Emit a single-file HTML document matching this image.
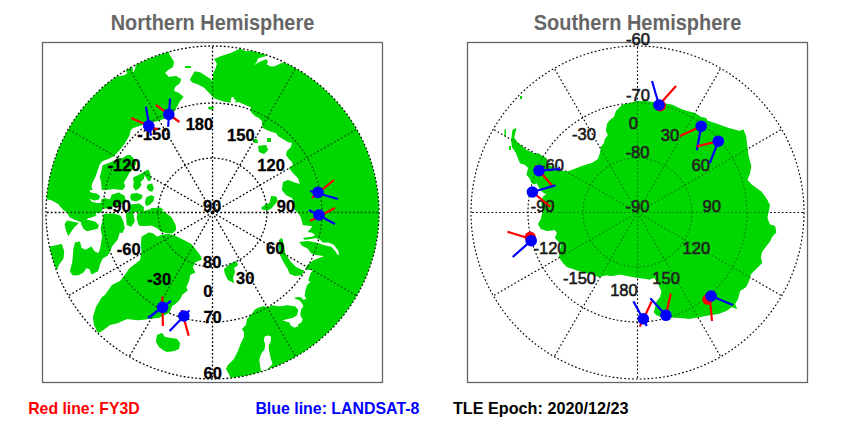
<!DOCTYPE html>
<html><head><meta charset="utf-8"><style>
html,body{margin:0;padding:0;background:#fff;}
svg{display:block;}
text{font-family:"Liberation Sans",sans-serif;}
</style></head><body>
<svg width="850" height="425" viewBox="0 0 850 425">
<defs>
<clipPath id="cl"><circle cx="212.5" cy="212.5" r="166.5"/></clipPath>
<clipPath id="cr"><circle cx="637.5" cy="212.5" r="166.5"/></clipPath>
</defs>
<rect x="0" y="0" width="850" height="425" fill="#fff"/>
<text x="212.5" y="30.3" text-anchor="middle" font-size="21.5" font-weight="bold" fill="#666" textLength="203.5" lengthAdjust="spacingAndGlyphs">Northern Hemisphere</text>
<text x="637.5" y="30.3" text-anchor="middle" font-size="21.5" font-weight="bold" fill="#666" textLength="207.5" lengthAdjust="spacingAndGlyphs">Southern Hemisphere</text>
<rect x="42.5" y="42.5" width="340" height="340" fill="none" stroke="#666" stroke-width="1.3"/>
<rect x="467.5" y="42.5" width="340" height="340" fill="none" stroke="#666" stroke-width="1.3"/>
<g clip-path="url(#cl)" fill="#00d600">
<path d="M170.0,30.0 L170.0,50.0 L169.0,54.0 L171.0,57.0 L174.0,62.0 L173.0,67.0 L168.0,70.0 L165.0,73.0 L169.0,77.0 L176.0,76.0 L181.0,79.0 L180.0,83.0 L175.0,87.0 L174.0,91.0 L179.0,93.0 L183.5,97.0 L180.0,101.0 L177.6,105.6 L175.0,110.0 L171.8,115.6 L164.7,118.5 L157.6,121.0 L149.4,123.0 L141.0,125.6 L133.0,128.0 L130.8,130.0 L129.4,135.6 L125.2,142.7 L121.0,148.4 L116.7,153.3 L113.9,156.1 L108.2,158.9 L102.6,161.1 L99.8,163.9 L98.4,168.1 L96.9,172.4 L95.5,176.6 L92.7,182.2 L91.3,186.5 L92.7,190.0 L89.4,190.0 L90.6,192.4 L96.5,193.5 L100.0,195.9 L98.8,199.4 L94.1,200.6 L91.8,199.4 L89.4,198.8 L91.8,201.8 L96.5,202.9 L101.2,202.9 L103.0,206.0 L102.0,210.0 L101.2,212.4 L95.3,212.9 L96.5,215.3 L92.9,217.1 L87.1,218.8 L82.4,222.4 L80.0,221.8 L74.1,219.4 L69.4,217.1 L67.1,212.4 L63.5,210.0 L60.0,206.5 L59.0,204.5 L52.0,200.5 L46.5,199.0 L30.0,199.0 L30.0,30.0 L112.0,30.0 L114.1,77.1 L118.8,76.2 L124.5,75.2 L127.3,73.3 L125.9,70.5 L128.2,68.2 L132.0,66.8 L132.9,69.1 L132.5,72.4 L133.9,71.5 L135.3,68.2 L135.7,64.9 L136.0,30.0 Z"/><path d="M189.8,79.8 L194.5,71.4 L200.0,72.3 L205.8,76.0 L210.5,78.9 L212.4,81.7 L213.3,73.2 L215.2,69.5 L217.0,63.8 L214.2,59.1 L220.8,56.3 L232.1,52.5 L239.6,48.8 L240.0,47.5 L242.5,49.9 L246.6,51.2 L250.7,50.8 L256.5,52.0 L261.4,53.2 L265.5,54.5 L267.2,55.7 L261.4,57.3 L258.1,58.2 L256.5,62.3 L253.6,65.6 L258.9,62.3 L264.7,59.8 L267.2,59.4 L267.6,62.7 L266.3,64.3 L270.5,66.4 L274.6,66.4 L279.5,63.9 L284.4,62.3 L289.4,64.8 L296.0,68.0 L300.0,69.7 L300.0,30.0 L430.0,30.0 L430.0,400.0 L231.0,400.0 L231.0,379.0 L229.0,374.0 L226.0,369.0 L228.0,365.0 L234.0,359.0 L238.0,351.0 L241.0,343.0 L244.0,337.0 L244.0,332.0 L242.0,329.0 L246.0,325.0 L247.0,319.0 L251.0,315.0 L255.0,309.5 L258.3,307.8 L263.2,306.2 L268.2,307.0 L273.1,305.4 L280.0,306.5 L287.1,305.3 L295.3,306.5 L298.2,310.0 L297.0,315.3 L292.9,317.8 L282.2,320.2 L289.6,322.7 L290.4,325.2 L294.5,327.7 L298.7,326.0 L297.8,324.4 L301.1,322.7 L302.8,319.4 L300.6,315.9 L300.5,312.4 L301.5,308.8 L303.5,306.5 L302.4,304.1 L300.0,300.6 L294.1,298.2 L297.6,297.1 L301.2,297.6 L303.5,300.0 L306.5,298.8 L304.7,295.9 L305.3,291.2 L307.1,285.3 L310.6,281.8 L308.2,280.6 L310.6,273.5 L312.9,270.0 L313.0,270.0 L308.0,270.0 L305.3,268.5 L307.6,265.0 L313.5,260.3 L319.4,257.9 L324.1,256.2 L320.6,255.6 L315.9,255.0 L311.2,253.2 L307.6,248.5 L301.8,245.6 L299.4,242.1 L307.6,240.9 L315.9,242.6 L325.3,245.6 L331.2,246.8 L335.9,252.1 L337.1,254.4 L339.0,255.0 L338.5,251.0 L334.0,245.0 L328.8,242.6 L322.9,242.6 L319.4,239.1 L315.3,237.9 L310.6,239.1 L304.7,239.7 L302.9,237.9 L306.5,237.4 L312.4,236.8 L315.3,235.0 L311.8,232.6 L307.6,232.1 L309.4,230.3 L312.4,226.2 L302.9,225.0 L301.0,218.0 L299.0,214.0 L295.0,210.0 L294.0,206.0 L294.0,202.0 L292.0,198.0 L286.0,195.0 L282.0,190.0 L283.0,182.0 L288.0,180.0 L296.0,183.0 L300.0,184.0 L298.0,178.0 L293.0,173.0 L289.0,168.0 L293.0,165.0 L292.0,162.0 L289.0,159.0 L286.0,155.0 L287.0,151.0 L291.0,147.0 L292.0,143.0 L288.0,142.0 L283.0,139.0 L278.0,136.0 L276.0,133.0 L272.0,132.0 L267.0,130.0 L263.0,128.0 L262.0,125.0 L262.0,121.0 L259.0,118.0 L255.0,116.0 L252.1,113.2 L250.2,110.4 L251.1,107.6 L247.4,105.7 L242.7,103.8 L238.9,101.9 L235.1,102.4 L236.1,100.5 L234.2,99.1 L233.2,96.8 L231.4,97.2 L230.4,102.4 L223.8,101.5 L219.1,100.1 L214.4,98.2 L211.6,95.4 L208.8,92.5 L203.9,87.4 L198.2,84.5 L192.6,82.6 L189.8,79.8 Z"/><path d="M141.6,236.7 L148.7,232.5 L152.9,233.2 L157.1,236.7 L162.8,234.6 L168.4,233.9 L174.1,235.3 L182.6,239.5 L191.0,243.8 L196.6,250.5 L200.5,255.7 L201.8,259.6 L195.3,262.2 L192.8,267.3 L195.3,272.5 L190.2,275.1 L188.9,281.5 L186.3,286.7 L187.6,290.6 L182.4,294.5 L179.8,299.7 L175.9,303.5 L172.1,306.1 L169.5,312.6 L164.3,315.2 L159.1,317.8 L148.8,319.0 L138.4,320.3 L127.0,319.0 L118.0,323.0 L110.0,325.0 L102.0,331.0 L98.0,333.0 L94.0,325.0 L93.0,317.0 L96.0,307.0 L102.0,297.0 L105.0,295.0 L112.0,285.0 L120.0,281.0 L124.0,276.0 L129.4,268.6 L140.2,260.0 L141.6,250.8 L140.9,245.2 Z"/><path d="M157.0,335.0 L162.0,333.0 L165.0,337.0 L171.0,338.0 L177.0,339.0 L180.0,343.0 L179.0,349.0 L174.0,351.0 L167.0,352.0 L163.0,350.0 L159.0,347.0 L156.0,342.0 Z"/><path d="M224.0,269.0 L230.0,264.0 L236.0,261.0 L238.0,265.0 L234.0,268.0 L235.0,272.0 L233.0,278.0 L234.0,283.0 L228.0,280.0 L225.0,274.0 Z"/><path d="M279.0,240.0 L282.0,238.0 L284.0,245.0 L285.0,253.0 L290.0,261.0 L296.0,267.0 L302.0,270.0 L300.0,273.0 L293.0,275.0 L289.0,271.0 L284.0,263.0 L280.0,255.0 L279.0,247.0 Z"/><path d="M288.0,270.0 L304.0,270.0 L302.0,275.0 L295.0,276.0 L290.0,274.0 Z"/><path d="M102.6,165.3 L108.2,163.2 L113.9,161.1 L118.1,158.2 L122.4,158.2 L126.6,155.4 L132.2,156.8 L136.5,162.5 L134.0,168.0 L129.4,172.4 L126.6,178.0 L123.8,182.2 L125.2,186.5 L122.4,190.0 L114.0,189.0 L107.4,189.7 L101.9,190.0 L101.2,182.2 L99.8,176.6 L101.2,172.4 Z"/><path d="M133.2,177.6 L137.9,175.3 L142.6,172.9 L145.0,174.1 L143.8,178.8 L140.3,182.4 L141.5,184.7 L139.1,188.2 L135.6,190.6 L133.2,187.1 L133.8,182.4 Z"/><path d="M143.8,171.8 L148.5,169.4 L150.3,174.1 L150.9,180.0 L148.5,181.2 L145.6,176.5 Z"/><path d="M147.4,184.7 L152.1,183.5 L153.8,188.2 L152.1,191.8 L148.5,190.6 L146.8,187.6 Z"/><path d="M130.9,194.1 L136.8,192.9 L142.6,195.3 L141.5,198.8 L136.8,201.2 L131.5,200.6 L130.3,197.6 Z"/><path d="M146.2,197.6 L150.9,195.3 L154.4,196.5 L153.2,201.2 L149.7,204.7 L146.2,205.9 L145.0,202.4 Z"/><path d="M129.7,204.7 L139.1,203.5 L143.8,207.1 L143.8,212.0 L129.7,212.0 Z"/><path d="M150.9,208.2 L160.3,207.6 L163.8,210.0 L150.9,211.0 Z"/><path d="M125.0,171.8 L127.4,170.6 L128.5,175.3 L125.0,176.5 Z"/><path d="M127.0,155.0 L131.0,155.0 L132.0,162.0 L127.0,163.0 Z"/><path d="M101.2,199.4 L104.7,198.2 L110.0,199.4 L111.8,194.7 L118.8,192.4 L124.7,195.9 L125.9,201.8 L121.2,204.1 L110.0,207.6 L104.7,208.8 L101.2,207.6 Z"/><path d="M103.5,214.1 L113.4,213.4 L120.4,215.5 L123.2,221.2 L124.7,228.0 L122.5,233.0 L119.7,232.5 L117.6,239.5 L112.0,246.6 L109.1,253.7 L103.5,257.9 L97.8,256.5 L100.6,246.6 L102.1,236.7 L100.6,228.2 L102.8,219.8 Z"/><path d="M81.2,220.6 L85.9,219.4 L90.6,220.6 L95.3,221.8 L98.8,225.3 L97.6,228.8 L91.8,230.0 L87.1,231.2 L83.5,228.8 L81.2,224.1 Z"/><path d="M64.7,224.1 L67.1,220.6 L72.9,221.8 L78.8,222.9 L74.1,227.6 L70.6,232.4 L68.2,235.9 L65.9,230.0 Z"/><path d="M147.3,209.9 L154.3,208.5 L161.4,209.9 L164.2,212.0 L171.3,217.0 L175.5,224.7 L176.2,229.7 L172.7,233.2 L167.0,233.2 L161.4,231.8 L157.1,228.2 L151.5,225.4 L144.4,226.1 L138.8,225.4 L136.7,218.4 L137.4,213.4 Z"/><path d="M125.9,212.6 L133.0,211.8 L134.7,221.5 L131.2,226.8 L126.8,225.0 Z"/><path d="M70.0,271.2 L72.5,261.3 L73.3,249.8 L75.0,242.4 L79.9,241.5 L81.5,248.1 L85.7,249.8 L91.4,246.5 L94.7,251.4 L98.0,253.1 L101.3,250.6 L106.3,249.8 L107.9,255.5 L103.0,258.0 L100.5,262.9 L98.0,271.2 L91.4,274.5 L89.8,269.5 L86.5,267.9 L83.2,272.8 L78.2,275.3 L72.5,275.3 Z"/><path d="M50.2,246.5 L61.8,244.0 L64.2,251.4 L63.4,258.8 L58.5,265.4 L56.8,270.4 L51.0,258.0 L45.0,250.0 Z"/><path d="M253.0,139.0 L257.0,139.0 L258.0,143.0 L254.0,143.0 Z"/><path d="M258.0,146.0 L266.0,145.0 L268.0,150.0 L264.0,154.0 L259.0,152.0 Z"/><path d="M267.0,138.0 L271.0,138.0 L271.0,142.0 L267.0,142.0 Z"/><path d="M271.0,196.0 L277.0,197.0 L276.0,200.0 L271.0,200.0 Z"/><path d="M261.0,208.0 L265.0,204.7 L269.5,203.0 L271.0,197.0 L275.0,196.5 L277.8,200.6 L274.5,204.7 L271.0,208.8 L267.0,210.5 L263.0,209.7 Z"/><path d="M208.0,107.0 L214.0,106.5 L213.0,109.5 L209.0,109.5 Z"/><path d="M185.0,66.0 L191.0,66.0 L191.0,68.0 L185.0,68.0 Z"/>
</g>
<g clip-path="url(#cl)" fill="#fff">
<path d="M264.6,336.7 L267.8,335.4 L271.1,336.7 L270.4,341.8 L268.5,345.7 L269.1,350.9 L270.4,357.4 L272.4,363.9 L267.0,369.5 L261.0,371.0 L259.4,360.0 L261.4,353.5 L264.6,349.6 L265.3,344.4 L264.0,340.5 Z"/>
</g>
<g clip-path="url(#cr)" fill="#00d600">
<path d="M512.9,129.4 L516.4,128.2 L515.2,132.9 L514.0,137.6 L517.6,142.4 L525.8,149.4 L535.2,154.1 L538.0,153.3 L546.4,158.2 L548.0,164.8 L561.2,170.6 L567.8,171.4 L574.4,169.0 L582.0,166.0 L592.0,163.0 L598.0,159.0 L600.0,153.0 L601.0,147.0 L604.0,143.0 L605.0,139.0 L608.0,135.0 L606.0,131.0 L607.0,124.0 L610.0,120.0 L614.0,117.0 L616.0,111.0 L622.0,105.0 L630.0,103.0 L637.0,101.0 L645.0,101.0 L653.0,102.0 L663.0,103.0 L673.0,105.0 L681.0,109.0 L687.0,111.0 L695.0,113.0 L701.0,117.0 L706.0,118.0 L707.2,120.5 L718.8,124.4 L729.2,128.3 L734.3,129.6 L739.5,130.9 L743.4,129.6 L746.0,136.0 L747.3,146.4 L748.6,156.8 L751.2,165.8 L749.9,173.6 L747.3,180.0 L752.5,185.2 L761.5,191.7 L765.4,196.9 L767.3,200.0 L769.9,205.2 L768.6,211.6 L767.3,218.1 L769.9,224.6 L775.0,225.9 L776.3,232.4 L772.5,236.2 L769.9,241.4 L766.0,246.6 L762.1,251.8 L760.8,256.9 L762.1,263.4 L761.0,255.0 L762.0,263.0 L756.0,269.0 L751.0,274.0 L749.0,281.0 L746.0,287.0 L740.0,291.0 L738.0,299.0 L735.0,304.0 L737.0,309.0 L732.0,307.0 L726.0,311.0 L718.0,314.0 L710.0,315.0 L700.0,317.0 L690.0,318.8 L680.7,318.1 L673.6,317.4 L661.0,316.7 L656.7,315.3 L653.9,312.5 L655.3,306.8 L656.7,301.2 L660.2,297.0 L661.6,291.3 L659.5,287.0 L657.6,282.7 L654.3,277.7 L649.4,279.4 L642.8,278.6 L632.9,276.9 L619.8,274.4 L611.5,276.1 L606.6,275.3 L599.0,277.0 L593.0,275.0 L587.0,273.0 L579.0,271.0 L573.0,269.0 L567.0,267.0 L563.0,263.0 L559.0,257.0 L560.0,251.0 L561.0,245.0 L558.0,241.0 L555.0,238.0 L557.0,233.0 L555.0,230.0 L547.0,231.0 L541.0,229.0 L538.0,224.0 L541.0,219.0 L542.3,212.6 L541.4,202.7 L543.1,196.2 L546.4,194.5 L541.4,191.2 L536.5,183.0 L534.8,184.6 L531.5,183.0 L529.9,178.8 L526.6,174.7 L528.2,168.1 L525.0,164.8 L520.0,163.2 L516.0,153.0 L512.0,147.0 L511.0,139.0 L511.7,137.6 L512.0,133.0 Z"/><path d="M520.0,96.0 L522.0,96.0 L522.0,99.0 L520.0,99.0 Z"/><path d="M504.6,129.4 L505.8,129.4 L505.8,136.5 L504.6,136.5 Z"/><path d="M509.0,146.0 L511.0,146.0 L511.0,150.0 L509.0,150.0 Z"/>
</g>
<g fill="none" stroke="#000" stroke-width="1.3" stroke-dasharray="1.8 2.1">
<circle cx="212.5" cy="212.5" r="54.4" />
<circle cx="212.5" cy="212.5" r="109.5" />
<circle cx="212.5" cy="212.5" r="166.5" />
<line x1="212.5" y1="212.5" x2="212.50" y2="379.00" />
<line x1="212.5" y1="212.5" x2="295.75" y2="356.69" />
<line x1="212.5" y1="212.5" x2="356.69" y2="295.75" />
<line x1="212.5" y1="212.5" x2="379.00" y2="212.50" />
<line x1="212.5" y1="212.5" x2="356.69" y2="129.25" />
<line x1="212.5" y1="212.5" x2="295.75" y2="68.31" />
<line x1="212.5" y1="212.5" x2="212.50" y2="46.00" />
<line x1="212.5" y1="212.5" x2="129.25" y2="68.31" />
<line x1="212.5" y1="212.5" x2="68.31" y2="129.25" />
<line x1="212.5" y1="212.5" x2="46.00" y2="212.50" />
<line x1="212.5" y1="212.5" x2="68.31" y2="295.75" />
<line x1="212.5" y1="212.5" x2="129.25" y2="356.69" />
</g>
<g fill="none" stroke="#000" stroke-width="1.15" stroke-dasharray="1.7 2.2">
<circle cx="637.5" cy="212.5" r="54.4" />
<circle cx="637.5" cy="212.5" r="109.5" />
<circle cx="637.5" cy="212.5" r="166.5" />
<line x1="637.5" y1="212.5" x2="637.50" y2="46.00" />
<line x1="637.5" y1="212.5" x2="720.75" y2="68.31" />
<line x1="637.5" y1="212.5" x2="781.69" y2="129.25" />
<line x1="637.5" y1="212.5" x2="804.00" y2="212.50" />
<line x1="637.5" y1="212.5" x2="781.69" y2="295.75" />
<line x1="637.5" y1="212.5" x2="720.75" y2="356.69" />
<line x1="637.5" y1="212.5" x2="637.50" y2="379.00" />
<line x1="637.5" y1="212.5" x2="554.25" y2="356.69" />
<line x1="637.5" y1="212.5" x2="493.31" y2="295.75" />
<line x1="637.5" y1="212.5" x2="471.00" y2="212.50" />
<line x1="637.5" y1="212.5" x2="493.31" y2="129.25" />
<line x1="637.5" y1="212.5" x2="554.25" y2="68.31" />
</g>
<g clip-path="url(#cl)" fill="#00d600" fill-opacity="0.4">
<path d="M170.0,30.0 L170.0,50.0 L169.0,54.0 L171.0,57.0 L174.0,62.0 L173.0,67.0 L168.0,70.0 L165.0,73.0 L169.0,77.0 L176.0,76.0 L181.0,79.0 L180.0,83.0 L175.0,87.0 L174.0,91.0 L179.0,93.0 L183.5,97.0 L180.0,101.0 L177.6,105.6 L175.0,110.0 L171.8,115.6 L164.7,118.5 L157.6,121.0 L149.4,123.0 L141.0,125.6 L133.0,128.0 L130.8,130.0 L129.4,135.6 L125.2,142.7 L121.0,148.4 L116.7,153.3 L113.9,156.1 L108.2,158.9 L102.6,161.1 L99.8,163.9 L98.4,168.1 L96.9,172.4 L95.5,176.6 L92.7,182.2 L91.3,186.5 L92.7,190.0 L89.4,190.0 L90.6,192.4 L96.5,193.5 L100.0,195.9 L98.8,199.4 L94.1,200.6 L91.8,199.4 L89.4,198.8 L91.8,201.8 L96.5,202.9 L101.2,202.9 L103.0,206.0 L102.0,210.0 L101.2,212.4 L95.3,212.9 L96.5,215.3 L92.9,217.1 L87.1,218.8 L82.4,222.4 L80.0,221.8 L74.1,219.4 L69.4,217.1 L67.1,212.4 L63.5,210.0 L60.0,206.5 L59.0,204.5 L52.0,200.5 L46.5,199.0 L30.0,199.0 L30.0,30.0 L112.0,30.0 L114.1,77.1 L118.8,76.2 L124.5,75.2 L127.3,73.3 L125.9,70.5 L128.2,68.2 L132.0,66.8 L132.9,69.1 L132.5,72.4 L133.9,71.5 L135.3,68.2 L135.7,64.9 L136.0,30.0 Z"/><path d="M189.8,79.8 L194.5,71.4 L200.0,72.3 L205.8,76.0 L210.5,78.9 L212.4,81.7 L213.3,73.2 L215.2,69.5 L217.0,63.8 L214.2,59.1 L220.8,56.3 L232.1,52.5 L239.6,48.8 L240.0,47.5 L242.5,49.9 L246.6,51.2 L250.7,50.8 L256.5,52.0 L261.4,53.2 L265.5,54.5 L267.2,55.7 L261.4,57.3 L258.1,58.2 L256.5,62.3 L253.6,65.6 L258.9,62.3 L264.7,59.8 L267.2,59.4 L267.6,62.7 L266.3,64.3 L270.5,66.4 L274.6,66.4 L279.5,63.9 L284.4,62.3 L289.4,64.8 L296.0,68.0 L300.0,69.7 L300.0,30.0 L430.0,30.0 L430.0,400.0 L231.0,400.0 L231.0,379.0 L229.0,374.0 L226.0,369.0 L228.0,365.0 L234.0,359.0 L238.0,351.0 L241.0,343.0 L244.0,337.0 L244.0,332.0 L242.0,329.0 L246.0,325.0 L247.0,319.0 L251.0,315.0 L255.0,309.5 L258.3,307.8 L263.2,306.2 L268.2,307.0 L273.1,305.4 L280.0,306.5 L287.1,305.3 L295.3,306.5 L298.2,310.0 L297.0,315.3 L292.9,317.8 L282.2,320.2 L289.6,322.7 L290.4,325.2 L294.5,327.7 L298.7,326.0 L297.8,324.4 L301.1,322.7 L302.8,319.4 L300.6,315.9 L300.5,312.4 L301.5,308.8 L303.5,306.5 L302.4,304.1 L300.0,300.6 L294.1,298.2 L297.6,297.1 L301.2,297.6 L303.5,300.0 L306.5,298.8 L304.7,295.9 L305.3,291.2 L307.1,285.3 L310.6,281.8 L308.2,280.6 L310.6,273.5 L312.9,270.0 L313.0,270.0 L308.0,270.0 L305.3,268.5 L307.6,265.0 L313.5,260.3 L319.4,257.9 L324.1,256.2 L320.6,255.6 L315.9,255.0 L311.2,253.2 L307.6,248.5 L301.8,245.6 L299.4,242.1 L307.6,240.9 L315.9,242.6 L325.3,245.6 L331.2,246.8 L335.9,252.1 L337.1,254.4 L339.0,255.0 L338.5,251.0 L334.0,245.0 L328.8,242.6 L322.9,242.6 L319.4,239.1 L315.3,237.9 L310.6,239.1 L304.7,239.7 L302.9,237.9 L306.5,237.4 L312.4,236.8 L315.3,235.0 L311.8,232.6 L307.6,232.1 L309.4,230.3 L312.4,226.2 L302.9,225.0 L301.0,218.0 L299.0,214.0 L295.0,210.0 L294.0,206.0 L294.0,202.0 L292.0,198.0 L286.0,195.0 L282.0,190.0 L283.0,182.0 L288.0,180.0 L296.0,183.0 L300.0,184.0 L298.0,178.0 L293.0,173.0 L289.0,168.0 L293.0,165.0 L292.0,162.0 L289.0,159.0 L286.0,155.0 L287.0,151.0 L291.0,147.0 L292.0,143.0 L288.0,142.0 L283.0,139.0 L278.0,136.0 L276.0,133.0 L272.0,132.0 L267.0,130.0 L263.0,128.0 L262.0,125.0 L262.0,121.0 L259.0,118.0 L255.0,116.0 L252.1,113.2 L250.2,110.4 L251.1,107.6 L247.4,105.7 L242.7,103.8 L238.9,101.9 L235.1,102.4 L236.1,100.5 L234.2,99.1 L233.2,96.8 L231.4,97.2 L230.4,102.4 L223.8,101.5 L219.1,100.1 L214.4,98.2 L211.6,95.4 L208.8,92.5 L203.9,87.4 L198.2,84.5 L192.6,82.6 L189.8,79.8 Z"/><path d="M141.6,236.7 L148.7,232.5 L152.9,233.2 L157.1,236.7 L162.8,234.6 L168.4,233.9 L174.1,235.3 L182.6,239.5 L191.0,243.8 L196.6,250.5 L200.5,255.7 L201.8,259.6 L195.3,262.2 L192.8,267.3 L195.3,272.5 L190.2,275.1 L188.9,281.5 L186.3,286.7 L187.6,290.6 L182.4,294.5 L179.8,299.7 L175.9,303.5 L172.1,306.1 L169.5,312.6 L164.3,315.2 L159.1,317.8 L148.8,319.0 L138.4,320.3 L127.0,319.0 L118.0,323.0 L110.0,325.0 L102.0,331.0 L98.0,333.0 L94.0,325.0 L93.0,317.0 L96.0,307.0 L102.0,297.0 L105.0,295.0 L112.0,285.0 L120.0,281.0 L124.0,276.0 L129.4,268.6 L140.2,260.0 L141.6,250.8 L140.9,245.2 Z"/><path d="M157.0,335.0 L162.0,333.0 L165.0,337.0 L171.0,338.0 L177.0,339.0 L180.0,343.0 L179.0,349.0 L174.0,351.0 L167.0,352.0 L163.0,350.0 L159.0,347.0 L156.0,342.0 Z"/><path d="M224.0,269.0 L230.0,264.0 L236.0,261.0 L238.0,265.0 L234.0,268.0 L235.0,272.0 L233.0,278.0 L234.0,283.0 L228.0,280.0 L225.0,274.0 Z"/><path d="M279.0,240.0 L282.0,238.0 L284.0,245.0 L285.0,253.0 L290.0,261.0 L296.0,267.0 L302.0,270.0 L300.0,273.0 L293.0,275.0 L289.0,271.0 L284.0,263.0 L280.0,255.0 L279.0,247.0 Z"/><path d="M288.0,270.0 L304.0,270.0 L302.0,275.0 L295.0,276.0 L290.0,274.0 Z"/><path d="M102.6,165.3 L108.2,163.2 L113.9,161.1 L118.1,158.2 L122.4,158.2 L126.6,155.4 L132.2,156.8 L136.5,162.5 L134.0,168.0 L129.4,172.4 L126.6,178.0 L123.8,182.2 L125.2,186.5 L122.4,190.0 L114.0,189.0 L107.4,189.7 L101.9,190.0 L101.2,182.2 L99.8,176.6 L101.2,172.4 Z"/><path d="M133.2,177.6 L137.9,175.3 L142.6,172.9 L145.0,174.1 L143.8,178.8 L140.3,182.4 L141.5,184.7 L139.1,188.2 L135.6,190.6 L133.2,187.1 L133.8,182.4 Z"/><path d="M143.8,171.8 L148.5,169.4 L150.3,174.1 L150.9,180.0 L148.5,181.2 L145.6,176.5 Z"/><path d="M147.4,184.7 L152.1,183.5 L153.8,188.2 L152.1,191.8 L148.5,190.6 L146.8,187.6 Z"/><path d="M130.9,194.1 L136.8,192.9 L142.6,195.3 L141.5,198.8 L136.8,201.2 L131.5,200.6 L130.3,197.6 Z"/><path d="M146.2,197.6 L150.9,195.3 L154.4,196.5 L153.2,201.2 L149.7,204.7 L146.2,205.9 L145.0,202.4 Z"/><path d="M129.7,204.7 L139.1,203.5 L143.8,207.1 L143.8,212.0 L129.7,212.0 Z"/><path d="M150.9,208.2 L160.3,207.6 L163.8,210.0 L150.9,211.0 Z"/><path d="M125.0,171.8 L127.4,170.6 L128.5,175.3 L125.0,176.5 Z"/><path d="M127.0,155.0 L131.0,155.0 L132.0,162.0 L127.0,163.0 Z"/><path d="M101.2,199.4 L104.7,198.2 L110.0,199.4 L111.8,194.7 L118.8,192.4 L124.7,195.9 L125.9,201.8 L121.2,204.1 L110.0,207.6 L104.7,208.8 L101.2,207.6 Z"/><path d="M103.5,214.1 L113.4,213.4 L120.4,215.5 L123.2,221.2 L124.7,228.0 L122.5,233.0 L119.7,232.5 L117.6,239.5 L112.0,246.6 L109.1,253.7 L103.5,257.9 L97.8,256.5 L100.6,246.6 L102.1,236.7 L100.6,228.2 L102.8,219.8 Z"/><path d="M81.2,220.6 L85.9,219.4 L90.6,220.6 L95.3,221.8 L98.8,225.3 L97.6,228.8 L91.8,230.0 L87.1,231.2 L83.5,228.8 L81.2,224.1 Z"/><path d="M64.7,224.1 L67.1,220.6 L72.9,221.8 L78.8,222.9 L74.1,227.6 L70.6,232.4 L68.2,235.9 L65.9,230.0 Z"/><path d="M147.3,209.9 L154.3,208.5 L161.4,209.9 L164.2,212.0 L171.3,217.0 L175.5,224.7 L176.2,229.7 L172.7,233.2 L167.0,233.2 L161.4,231.8 L157.1,228.2 L151.5,225.4 L144.4,226.1 L138.8,225.4 L136.7,218.4 L137.4,213.4 Z"/><path d="M125.9,212.6 L133.0,211.8 L134.7,221.5 L131.2,226.8 L126.8,225.0 Z"/><path d="M70.0,271.2 L72.5,261.3 L73.3,249.8 L75.0,242.4 L79.9,241.5 L81.5,248.1 L85.7,249.8 L91.4,246.5 L94.7,251.4 L98.0,253.1 L101.3,250.6 L106.3,249.8 L107.9,255.5 L103.0,258.0 L100.5,262.9 L98.0,271.2 L91.4,274.5 L89.8,269.5 L86.5,267.9 L83.2,272.8 L78.2,275.3 L72.5,275.3 Z"/><path d="M50.2,246.5 L61.8,244.0 L64.2,251.4 L63.4,258.8 L58.5,265.4 L56.8,270.4 L51.0,258.0 L45.0,250.0 Z"/><path d="M253.0,139.0 L257.0,139.0 L258.0,143.0 L254.0,143.0 Z"/><path d="M258.0,146.0 L266.0,145.0 L268.0,150.0 L264.0,154.0 L259.0,152.0 Z"/><path d="M267.0,138.0 L271.0,138.0 L271.0,142.0 L267.0,142.0 Z"/><path d="M271.0,196.0 L277.0,197.0 L276.0,200.0 L271.0,200.0 Z"/><path d="M261.0,208.0 L265.0,204.7 L269.5,203.0 L271.0,197.0 L275.0,196.5 L277.8,200.6 L274.5,204.7 L271.0,208.8 L267.0,210.5 L263.0,209.7 Z"/><path d="M208.0,107.0 L214.0,106.5 L213.0,109.5 L209.0,109.5 Z"/><path d="M185.0,66.0 L191.0,66.0 L191.0,68.0 L185.0,68.0 Z"/>
</g>
<g clip-path="url(#cl)" fill="#fff">
<path d="M264.6,336.7 L267.8,335.4 L271.1,336.7 L270.4,341.8 L268.5,345.7 L269.1,350.9 L270.4,357.4 L272.4,363.9 L267.0,369.5 L261.0,371.0 L259.4,360.0 L261.4,353.5 L264.6,349.6 L265.3,344.4 L264.0,340.5 Z"/>
</g>
<g clip-path="url(#cr)" fill="#00d600" fill-opacity="0.62">
<path d="M512.9,129.4 L516.4,128.2 L515.2,132.9 L514.0,137.6 L517.6,142.4 L525.8,149.4 L535.2,154.1 L538.0,153.3 L546.4,158.2 L548.0,164.8 L561.2,170.6 L567.8,171.4 L574.4,169.0 L582.0,166.0 L592.0,163.0 L598.0,159.0 L600.0,153.0 L601.0,147.0 L604.0,143.0 L605.0,139.0 L608.0,135.0 L606.0,131.0 L607.0,124.0 L610.0,120.0 L614.0,117.0 L616.0,111.0 L622.0,105.0 L630.0,103.0 L637.0,101.0 L645.0,101.0 L653.0,102.0 L663.0,103.0 L673.0,105.0 L681.0,109.0 L687.0,111.0 L695.0,113.0 L701.0,117.0 L706.0,118.0 L707.2,120.5 L718.8,124.4 L729.2,128.3 L734.3,129.6 L739.5,130.9 L743.4,129.6 L746.0,136.0 L747.3,146.4 L748.6,156.8 L751.2,165.8 L749.9,173.6 L747.3,180.0 L752.5,185.2 L761.5,191.7 L765.4,196.9 L767.3,200.0 L769.9,205.2 L768.6,211.6 L767.3,218.1 L769.9,224.6 L775.0,225.9 L776.3,232.4 L772.5,236.2 L769.9,241.4 L766.0,246.6 L762.1,251.8 L760.8,256.9 L762.1,263.4 L761.0,255.0 L762.0,263.0 L756.0,269.0 L751.0,274.0 L749.0,281.0 L746.0,287.0 L740.0,291.0 L738.0,299.0 L735.0,304.0 L737.0,309.0 L732.0,307.0 L726.0,311.0 L718.0,314.0 L710.0,315.0 L700.0,317.0 L690.0,318.8 L680.7,318.1 L673.6,317.4 L661.0,316.7 L656.7,315.3 L653.9,312.5 L655.3,306.8 L656.7,301.2 L660.2,297.0 L661.6,291.3 L659.5,287.0 L657.6,282.7 L654.3,277.7 L649.4,279.4 L642.8,278.6 L632.9,276.9 L619.8,274.4 L611.5,276.1 L606.6,275.3 L599.0,277.0 L593.0,275.0 L587.0,273.0 L579.0,271.0 L573.0,269.0 L567.0,267.0 L563.0,263.0 L559.0,257.0 L560.0,251.0 L561.0,245.0 L558.0,241.0 L555.0,238.0 L557.0,233.0 L555.0,230.0 L547.0,231.0 L541.0,229.0 L538.0,224.0 L541.0,219.0 L542.3,212.6 L541.4,202.7 L543.1,196.2 L546.4,194.5 L541.4,191.2 L536.5,183.0 L534.8,184.6 L531.5,183.0 L529.9,178.8 L526.6,174.7 L528.2,168.1 L525.0,164.8 L520.0,163.2 L516.0,153.0 L512.0,147.0 L511.0,139.0 L511.7,137.6 L512.0,133.0 Z"/><path d="M520.0,96.0 L522.0,96.0 L522.0,99.0 L520.0,99.0 Z"/><path d="M504.6,129.4 L505.8,129.4 L505.8,136.5 L504.6,136.5 Z"/><path d="M509.0,146.0 L511.0,146.0 L511.0,150.0 L509.0,150.0 Z"/>
</g>
<g font-size="16.5" font-weight="bold" fill="#000" stroke="#000" stroke-width="0.3">
<text x="199.4" y="129.9" text-anchor="middle">180</text><text x="240.8" y="141.0" text-anchor="middle">150</text><text x="271.1" y="170.8" text-anchor="middle">120</text><text x="286.0" y="212.0" text-anchor="middle">90</text><text x="212.1" y="212.0" text-anchor="middle">90</text><text x="275.2" y="254.3" text-anchor="middle">60</text><text x="245.2" y="284.4" text-anchor="middle">30</text><text x="207.8" y="296.5" text-anchor="middle">0</text><text x="159.2" y="284.6" text-anchor="middle">-30</text><text x="128.8" y="255.2" text-anchor="middle">-60</text><text x="119.0" y="211.5" text-anchor="middle">-90</text><text x="124.0" y="171.0" text-anchor="middle">-120</text><text x="153.8" y="140.4" text-anchor="middle">-150</text><text x="212.3" y="268.1" text-anchor="middle">80</text><text x="212.6" y="323.4" text-anchor="middle">70</text><text x="212.7" y="378.8" text-anchor="middle">60</text>
<text x="638.0" y="45.0" text-anchor="middle" font-weight="normal" fill="#1a1a1a" stroke="#1a1a1a" stroke-width="0.6">-60</text><text x="638.0" y="100.6" text-anchor="middle" font-weight="normal" fill="#1a1a1a" stroke="#1a1a1a" stroke-width="0.6">-70</text><text x="637.5" y="157.9" text-anchor="middle" font-weight="normal" fill="#222" stroke="#222" stroke-width="0.6">-80</text><text x="637.5" y="212.3" text-anchor="middle" font-weight="normal" fill="#222" stroke="#222" stroke-width="0.6">-90</text><text x="633.4" y="129.4" text-anchor="middle" font-weight="normal" fill="#222" stroke="#222" stroke-width="0.6">0</text><text x="669.9" y="140.6" text-anchor="middle" font-weight="normal" fill="#222" stroke="#222" stroke-width="0.6">30</text><text x="700.7" y="171.0" text-anchor="middle" font-weight="normal" fill="#222" stroke="#222" stroke-width="0.6">60</text><text x="711.8" y="212.4" text-anchor="middle" font-weight="normal" fill="#222" stroke="#222" stroke-width="0.6">90</text><text x="696.3" y="254.4" text-anchor="middle" font-weight="normal" fill="#222" stroke="#222" stroke-width="0.6">120</text><text x="666.1" y="284.3" text-anchor="middle" font-weight="normal" fill="#222" stroke="#222" stroke-width="0.6">150</text><text x="623.9" y="295.8" text-anchor="middle" font-weight="normal" fill="#1a1a1a" stroke="#1a1a1a" stroke-width="0.6">180</text><text x="579.5" y="284.0" text-anchor="middle" font-weight="normal" fill="#1a1a1a" stroke="#1a1a1a" stroke-width="0.6">-150</text><text x="550.0" y="254.0" text-anchor="middle" font-weight="normal" fill="#1a1a1a" stroke="#1a1a1a" stroke-width="0.6">-120</text><text x="542.6" y="211.8" text-anchor="middle" font-weight="normal" fill="#1a1a1a" stroke="#1a1a1a" stroke-width="0.6">-90</text><text x="551.9" y="170.6" text-anchor="middle" font-weight="normal" fill="#222" stroke="#222" stroke-width="0.6">-60</text><text x="584.0" y="140.0" text-anchor="middle" font-weight="normal" fill="#1a1a1a" stroke="#1a1a1a" stroke-width="0.6">-30</text>
</g>
<line x1="131.2" y1="118" x2="157.6" y2="129.7" stroke="#f00" stroke-width="2.2"/>
<line x1="145.9" y1="106.8" x2="151" y2="135.6" stroke="#00f" stroke-width="2.2"/>
<circle cx="148.8" cy="125.8" r="5.8" fill="#00f"/>
<line x1="155.9" y1="105" x2="179.4" y2="122" stroke="#f00" stroke-width="2.2"/>
<line x1="170" y1="98.5" x2="168.2" y2="126.8" stroke="#00f" stroke-width="2.2"/>
<circle cx="168.8" cy="114.4" r="5.8" fill="#00f"/>
<line x1="312" y1="198" x2="334" y2="180" stroke="#f00" stroke-width="2.2"/>
<line x1="310" y1="191" x2="338" y2="199" stroke="#00f" stroke-width="2.2"/>
<circle cx="318" cy="192.4" r="5.8" fill="#00f"/>
<line x1="310" y1="221" x2="335" y2="208" stroke="#f00" stroke-width="2.2"/>
<line x1="309" y1="210" x2="335" y2="224" stroke="#00f" stroke-width="2.2"/>
<circle cx="319" cy="215" r="5.8" fill="#00f"/>
<line x1="162.3" y1="296.5" x2="162.9" y2="326" stroke="#f00" stroke-width="2.2"/>
<line x1="148" y1="318" x2="171" y2="301" stroke="#00f" stroke-width="2.2"/>
<circle cx="162.6" cy="307.3" r="5.8" fill="#00f"/>
<line x1="181.6" y1="310" x2="188.7" y2="335.8" stroke="#f00" stroke-width="2.2"/>
<line x1="169.6" y1="330.9" x2="189.4" y2="310.4" stroke="#00f" stroke-width="2.2"/>
<circle cx="183.8" cy="316" r="5.8" fill="#00f"/>
<line x1="676" y1="86" x2="659" y2="105" stroke="#f00" stroke-width="2.2"/>
<line x1="652" y1="81" x2="659" y2="105" stroke="#00f" stroke-width="2.2"/>
<circle cx="660.2" cy="105.6" r="5.8" fill="#f00"/>
<circle cx="659" cy="105" r="5.8" fill="#00f"/>
<line x1="680" y1="136" x2="701.2" y2="126.2" stroke="#f00" stroke-width="2.2"/>
<line x1="701.2" y1="126.2" x2="696.8" y2="150.3" stroke="#00f" stroke-width="2.2"/>
<circle cx="701.2" cy="126.2" r="5.8" fill="#00f"/>
<line x1="696.8" y1="146.4" x2="718.3" y2="141.2" stroke="#f00" stroke-width="2.2"/>
<line x1="718.3" y1="141.2" x2="709.8" y2="163.2" stroke="#00f" stroke-width="2.2"/>
<circle cx="718.3" cy="141.2" r="5.8" fill="#00f"/>
<line x1="710" y1="300" x2="712" y2="321" stroke="#f00" stroke-width="2.2"/>
<line x1="711" y1="296" x2="733" y2="305" stroke="#00f" stroke-width="2.2"/>
<circle cx="707.5" cy="299.5" r="5.2" fill="#f00"/>
<circle cx="711" cy="296" r="5.8" fill="#00f"/>
<line x1="651.8" y1="301.2" x2="639.8" y2="326.6" stroke="#f00" stroke-width="2.2"/>
<line x1="633.4" y1="301.2" x2="646.8" y2="325.9" stroke="#00f" stroke-width="2.2"/>
<circle cx="643.3" cy="318.8" r="5.8" fill="#00f"/>
<line x1="670.8" y1="293.4" x2="665.9" y2="315.3" stroke="#f00" stroke-width="2.2"/>
<line x1="650.3" y1="298.3" x2="665.9" y2="315.3" stroke="#00f" stroke-width="2.2"/>
<circle cx="665.9" cy="315.3" r="5.8" fill="#00f"/>
<line x1="507.4" y1="231.7" x2="531" y2="239" stroke="#f00" stroke-width="2.2"/>
<line x1="512.7" y1="257" x2="531.2" y2="240.7" stroke="#00f" stroke-width="2.2"/>
<circle cx="530.2" cy="237.2" r="5.6" fill="#f00"/>
<circle cx="531.2" cy="240.7" r="5.8" fill="#00f"/>
<line x1="534.8" y1="165.7" x2="552.1" y2="185.4" stroke="#f00" stroke-width="2.2"/>
<line x1="539" y1="170.6" x2="560.4" y2="169" stroke="#00f" stroke-width="2.2"/>
<circle cx="539" cy="170.6" r="5.8" fill="#00f"/>
<line x1="532.4" y1="192" x2="550.5" y2="206.9" stroke="#f00" stroke-width="2.2"/>
<line x1="532.4" y1="192" x2="555.4" y2="185.4" stroke="#00f" stroke-width="2.2"/>
<circle cx="532.4" cy="192" r="5.8" fill="#00f"/>
<g font-size="17" font-weight="bold">
<text x="28.2" y="413.5" fill="#f00" textLength="111.5" lengthAdjust="spacingAndGlyphs">Red line: FY3D</text>
<text x="255.4" y="413.5" fill="#00f" textLength="164" lengthAdjust="spacingAndGlyphs">Blue line: LANDSAT-8</text>
<text x="452.9" y="413.5" fill="#000" textLength="175.6" lengthAdjust="spacingAndGlyphs">TLE Epoch: 2020/12/23</text>
</g>
</svg>
</body></html>
